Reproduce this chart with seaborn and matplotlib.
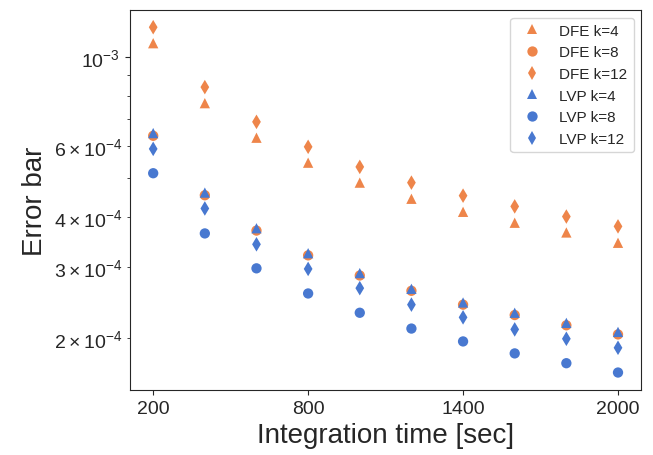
import pandas as pd
import matplotlib
matplotlib.use('Agg')
import matplotlib.pyplot as plt
import seaborn as sns

# data
times = [200, 400, 600, 800, 1000, 1200, 1400, 1600, 1800, 2000]
dfe_k4 = [1.083e-3, 7.68e-4, 6.30e-4, 5.46e-4, 4.87e-4, 4.44e-4, 4.12e-4, 3.87e-4, 3.66e-4, 3.45e-4]
dfe_k8 = [6.37e-4, 4.53e-4, 3.70e-4, 3.21e-4, 2.86e-4, 2.62e-4, 2.42e-4, 2.28e-4, 2.15e-4, 2.04e-4]
dfe_k12 = [1.187e-3, 8.42e-4, 6.90e-4, 5.98e-4, 5.33e-4, 4.87e-4, 4.52e-4, 4.25e-4, 4.01e-4, 3.79e-4]
lvp_k4 = [6.47e-4, 4.60e-4, 3.75e-4, 3.25e-4, 2.90e-4, 2.65e-4, 2.45e-4, 2.31e-4, 2.18e-4, 2.07e-4]
lvp_k8 = [5.14e-4, 3.64e-4, 2.98e-4, 2.58e-4, 2.31e-4, 2.11e-4, 1.96e-4, 1.83e-4, 1.73e-4, 1.64e-4]
lvp_k12 = [5.91e-4, 4.20e-4, 3.42e-4, 2.97e-4, 2.66e-4, 2.42e-4, 2.25e-4, 2.10e-4, 1.99e-4, 1.89e-4]

series_names = ['DFE k=4', 'DFE k=8', 'DFE k=12', 'LVP k=4', 'LVP k=8', 'LVP k=12']
series_values = [dfe_k4, dfe_k8, dfe_k12, lvp_k4, lvp_k8, lvp_k12]
x_ticks = [200, 800, 1400, 2000]

sns.set_style('ticks')
plt.rcParams['font.family'] = ['Liberation Sans', 'DejaVu Sans']

muted = sns.color_palette('muted')
colors = {n: (muted[1] if n.startswith('DFE') else muted[0]) for n in series_names}
markers = {n: m for n, m in zip(series_names, ['^', 'o', 'd'] * 2)}

rows = []
for name, vals in zip(series_names, series_values):
    for t, v in zip(times, vals):
        rows.append({'time': t, 'err': v, 'series': name})
df = pd.DataFrame(rows)

fig = plt.figure(figsize=(6.53, 4.56), dpi=100)
ax = fig.add_axes([0.199, 0.143, 0.783, 0.833])
sns.scatterplot(data=df, x='time', y='err', hue='series', style='series',
                palette=colors, markers=markers, s=55, linewidth=0, ax=ax)
ax.set_yscale('log')
ax.set_xticks(x_ticks)
ax.tick_params(axis='both', labelsize=14)
ax.tick_params(axis='y', which='minor', labelsize=14)
ax.set_xlabel('Integration time [sec]', fontsize=20)
ax.set_ylabel('Error bar', fontsize=20)
ax.legend(loc='upper right', fontsize=11)

fig.savefig('out.png', dpi=100)
